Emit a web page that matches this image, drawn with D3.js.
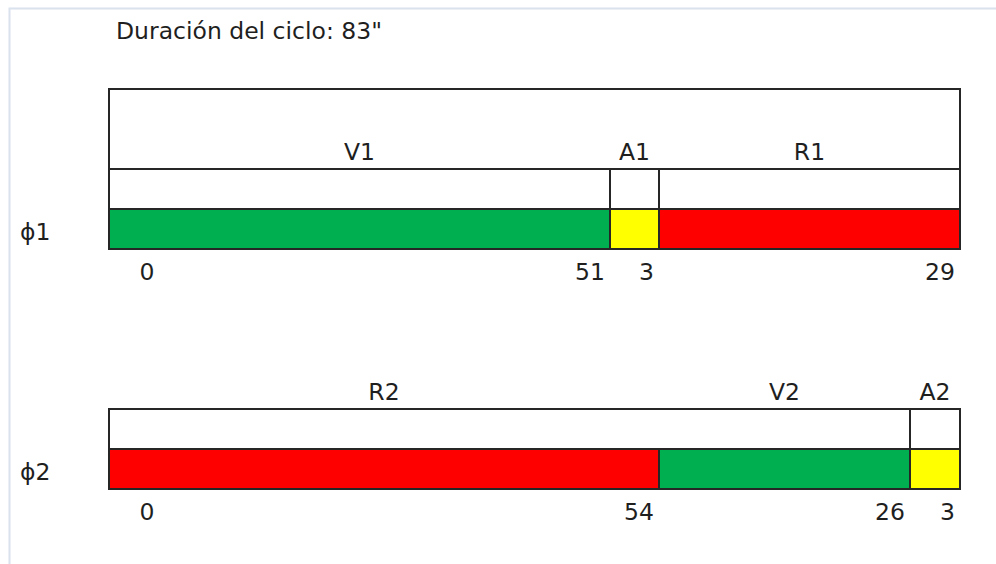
<!DOCTYPE html>
<html>
<head>
<meta charset="utf-8">
<script src="https://cdn.jsdelivr.net/npm/d3@7"></script>
<style>
  body { margin: 0; background: #fff; }
  text { font-family: "DejaVu Sans", "Open Sans", sans-serif; fill: #1f1f1f; }
</style>
</head>
<body>
<div id="chart"></div>
<script>
// cycle data
const cycleLength = 83;
const phaseNames = ["ϕ1", "ϕ2"];
const phase1Labels = ["V1", "A1", "R1"];
const phase1States = ["V", "A", "R"];
const phase1Durations = [51, 3, 29];
const phase2Labels = ["R2", "V2", "A2"];
const phase2States = ["R", "V", "A"];
const phase2Durations = [54, 26, 3];

const width = 996, height = 564;
const stateColor = { V: "#00b050", A: "#ffff00", R: "#ff0000" };
const lineColor = "#262626";
const fontSize = "23.5px";

// build segments with start / end times
function segments(labels, states, durations) {
  let t = 0;
  return labels.map((l, i) => {
    const s = { label: l, state: states[i], dur: durations[i], start: t, end: t + durations[i] };
    t += durations[i];
    return s;
  });
}
const phases = [
  { name: phaseNames[0], segs: segments(phase1Labels, phase1States, phase1Durations), top: 169, header: true },
  { name: phaseNames[1], segs: segments(phase2Labels, phase2States, phase2Durations), top: 409, header: false }
];

// schematic (not to scale) time axis: piecewise linear through the boundaries
const stops = Array.from(new Set([0].concat(...phases.map(p => p.segs.map(s => s.end))))).sort((a, b) => a - b);
const x = d3.scaleLinear()
  .domain(stops)            // 0, 51, 54, 80, 83
  .range([109, 610, 659, 910, 960]);

const rowH = 40;

let svg = d3.select("#chart")
  .append("svg")
  .attr("width", width)
  .attr("height", height);

// light frame
svg.append("path")
  .attr("d", `M9.5,${height} V8.5 H${width}`)
  .attr("fill", "none")
  .attr("stroke", "#dae2ee")
  .attr("stroke-width", 2);

// title
svg.append("text")
  .attr("x", 116)
  .attr("y", 39)
  .style("font-size", fontSize)
  .text(`Duración del ciclo: ${cycleLength}"`);

phases.forEach(p => {
  let g = svg.append("g");
  const y0 = p.top, y1 = p.top + rowH, y2 = p.top + 2 * rowH;

  // header box (phase 1 only)
  if (p.header) {
    g.append("rect")
      .attr("x", x(0)).attr("y", y0 - 80)
      .attr("width", x(cycleLength) - x(0)).attr("height", 80)
      .attr("fill", "white").attr("stroke", lineColor).attr("stroke-width", 2);
  }

  // empty row
  g.append("rect")
    .attr("x", x(0)).attr("y", y0)
    .attr("width", x(cycleLength) - x(0)).attr("height", rowH)
    .attr("fill", "white").attr("stroke", lineColor).attr("stroke-width", 2);

  // amber interval edges go up through the empty row
  const amber = p.segs.filter(s => s.state === "A");
  g.selectAll(".divider")
    .data(amber.flatMap(s => [s.start, s.end]))
    .enter()
    .append("line")
      .attr("x1", d => x(d)).attr("x2", d => x(d))
      .attr("y1", y0).attr("y2", y1)
      .attr("stroke", lineColor).attr("stroke-width", 2);

  // coloured bar
  g.selectAll(".seg")
    .data(p.segs)
    .enter()
    .append("rect")
      .attr("x", d => x(d.start))
      .attr("y", y1)
      .attr("width", d => x(d.end) - x(d.start))
      .attr("height", rowH)
      .attr("fill", d => stateColor[d.state])
      .attr("stroke", lineColor)
      .attr("stroke-width", 2);

  // interval names
  g.selectAll(".lbl")
    .data(p.segs)
    .enter()
    .append("text")
      .attr("x", d => (x(d.start) + x(d.end)) / 2)
      .attr("y", y0 - 9)
      .attr("text-anchor", "middle")
      .style("font-size", fontSize)
      .text(d => d.label);

  // durations under the bar
  g.append("text")
    .attr("x", x(0) + 38)
    .attr("y", y2 + 31)
    .attr("text-anchor", "middle")
    .style("font-size", fontSize)
    .text(0);

  g.selectAll(".dur")
    .data(p.segs)
    .enter()
    .append("text")
      .attr("x", d => x(d.end) - 5)
      .attr("y", y2 + 31)
      .attr("text-anchor", "end")
      .style("font-size", fontSize)
      .text(d => d.dur);

  // phase name
  g.append("text")
    .attr("x", 20)
    .attr("y", y2 - 9)
    .style("font-size", fontSize)
    .text(p.name);
});
</script>
</body>
</html>
